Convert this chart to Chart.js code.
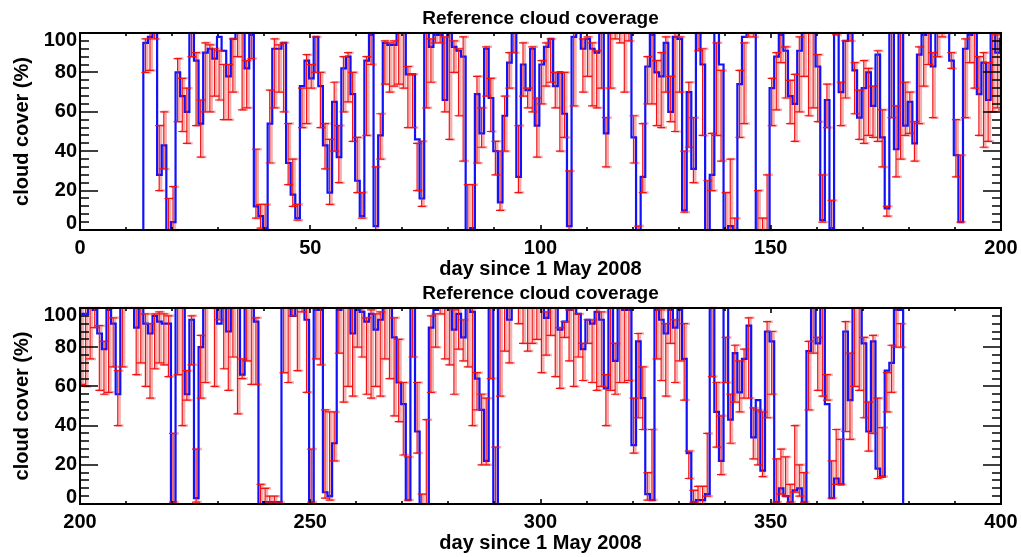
<!DOCTYPE html>
<html>
<head>
<meta charset="utf-8">
<title>Reference cloud coverage</title>
<script src="https://cdn.jsdelivr.net/npm/chart.js@4.4.0/dist/chart.umd.min.js"></script>
<style>
  html, body { margin: 0; padding: 0; background: #fff; }
  #wrap { position: relative; width: 1021px; height: 557px; }
  canvas { position: absolute; left: 0; }
</style>
</head>
<body>
<div id="wrap">
  <canvas id="panelTop" width="1021" height="280" style="top:0"></canvas>
  <canvas id="panelBottom" width="1021" height="277" style="top:280px"></canvas>
</div>
<script>
// first day with an observation (days since 1 May 2008)
const startDay = 13.75;

// daily cloud cover (%), first part (up to day ~200)
const coverFirst = [
  95, 98, 100, 28, 43, 0, 4, 80, 68, 60,
  100, 86, 54, 90, 92, 87, 98, 91, 78, 97,
  100, 100, 82, 99, 12, 7, 1, 54, 92, 92,
  95, 34, 18, 6, 73, 86, 77, 98, 73, 43,
  19, 65, 37, 82, 88, 69, 25, 7, 86, 99,
  2, 48, 95, 94, 94, 100, 100, 79, 79, 46,
  16, 100, 93, 99, 99, 66, 100, 93, 91, 88,
  0, 1, 69, 49, 92, 67, 40, 14, 58, 85,
  100, 27, 84, 71, 92, 53, 84, 93, 97, 73,
  80, 59, 2, 98, 100, 92, 97, 92, 90, 100,
  49, 100, 100, 100, 100, 100, 47, 0, 27, 83,
  99, 80, 78, 95, 60, 98, 97, 10, 70, 31,
  100, 84, 0, 28, 100, 84, 0, 2, 0, 74,
  98, 100, 100, 0, 0, 0, 72, 88, 99, 91,
  68, 64, 91, 100, 100, 100, 83, 5, 66, 1,
  100, 70, 96, 100, 81, 57, 72, 80, 63, 89,
  47, 11, 100, 41, 100, 53, 65, 44, 89, 99,
  100, 83, 100, 100, 100, 86, 38, 4, 92, 99,
  100, 69, 85, 66, 100, 90, 97
];
// daily cloud cover (%), second part
const coverSecond = [
  97, 100, 99, 87, 79, 99, 92, 56, 100, 100,
  100, 90, 100, 92, 87, 96, 93, 92, 92, 1,
  100, 100, 56, 94, 3, 80, 100, 100, 100, 92,
  100, 88, 100, 100, 66, 100, 100, 93, 0, 1,
  1, 1, 1, 100, 100, 96, 100, 100, 94, 1,
  99, 99, 6, 4, 31, 99, 100, 100, 87, 99,
  98, 93, 97, 89, 94, 100, 100, 85, 62, 51,
  2, 100, 37, 0, 0, 90, 99, 100, 100, 100,
  89, 97, 85, 100, 98, 64, 48, 22, 100, 0,
  100, 100, 94, 100, 100, 100, 100, 100, 100, 100,
  95, 100, 100, 89, 93, 99, 100, 97, 79, 94,
  92, 98, 94, 59, 100, 73, 100, 99, 99, 30,
  83, 54, 5, 2, 99, 94, 87, 99, 90, 99,
  74, 26, 1, 2, 2, 5, 100, 47, 22, 100,
  43, 77, 57, 74, 91, 34, 53, 17, 88, 83,
  1, 8, 4, 1, 7, 8, 1, 78, 100, 82,
  100, 51, 3, 13, 10, 88, 53, 100, 100, 82,
  37, 83, 18, 14, 68, 72, 99, 99
];

// reference range (%), lower and upper ends
const lowFirst = [
  80, 81, 97, 20, 31, 0, 0, 55, 50, 44,
  88, 53, 37, 60, 60, 68, 66, 56, 56, 70,
  88, 61, 62, 87, 6, 1, 0, 34, 62, 70,
  60, 23, 12, 5, 52, 54, 72, 80, 52, 31,
  13, 40, 24, 60, 65, 45, 19, 6, 48, 84,
  0, 36, 74, 70, 73, 74, 72, 52, 52, 20,
  12, 62, 75, 95, 95, 60, 46, 80, 58, 35,
  0, 0, 34, 42, 68, 50, 28, 10, 40, 72,
  90, 19, 68, 62, 60, 37, 64, 73, 75, 62,
  40, 47, 0, 63, 100, 70, 78, 63, 62, 72,
  32, 72, 97, 95, 70, 96, 34, 0, 19, 64,
  64, 53, 52, 70, 55, 50, 70, 9, 42, 24,
  91, 48, 0, 20, 48, 35, 0, 0, 0, 47,
  54, 98, 98, 0, 0, 0, 53, 61, 85, 67,
  54, 45, 60, 78, 58, 62, 55, 4, 52, 0,
  99, 53, 67, 96, 59, 46, 44, 48, 47, 45,
  32, 7, 57, 27, 36, 48, 49, 35, 54, 73,
  84, 57, 88, 98, 100, 82, 27, 4, 57, 85,
  72, 48, 42, 45, 60, 62, 61
];
const highFirst = [
  97, 100, 100, 53, 60, 16, 22, 87, 77, 72,
  100, 90, 66, 95, 94, 92, 91, 84, 84, 97,
  100, 100, 86, 100, 41, 13, 13, 71, 97, 94,
  95, 54, 36, 13, 72, 89, 84, 98, 80, 54,
  46, 75, 53, 88, 90, 80, 47, 19, 88, 100,
  32, 59, 96, 95, 96, 100, 100, 83, 79, 44,
  45, 100, 97, 100, 100, 98, 100, 96, 92, 98,
  23, 23, 78, 62, 93, 77, 45, 40, 68, 90,
  100, 53, 95, 72, 93, 67, 86, 95, 97, 80,
  80, 80, 30, 100, 100, 97, 98, 95, 91, 100,
  57, 100, 100, 100, 100, 100, 58, 2, 54, 88,
  100, 86, 90, 98, 78, 100, 98, 40, 75, 57,
  100, 92, 25, 49, 95, 81, 19, 36, 6, 81,
  95, 100, 100, 20, 6, 28, 77, 90, 100, 93,
  76, 79, 98, 100, 100, 100, 89, 28, 74, 15,
  100, 75, 96, 100, 85, 71, 86, 82, 73, 91,
  61, 12, 100, 63, 100, 75, 70, 55, 93, 100,
  100, 90, 100, 100, 100, 90, 56, 38, 97, 100,
  100, 88, 90, 85, 100, 99, 100
];
const lowSecond = [
  60, 74, 90, 58, 56, 57, 70, 40, 70, 100,
  100, 66, 72, 60, 54, 69, 72, 71, 65, 1,
  66, 40, 53, 71, 1, 54, 62, 100, 60, 94,
  69, 58, 75, 46, 64, 73, 61, 61, 0, 0,
  1, 1, 1, 67, 62, 96, 68, 98, 57, 1,
  74, 71, 3, 2, 22, 77, 52, 60, 55, 80,
  75, 56, 54, 60, 55, 74, 64, 45, 42, 25,
  2, 75, 26, 0, 0, 57, 80, 97, 74, 71,
  56, 79, 73, 70, 40, 48, 20, 20, 64, 0,
  55, 78, 72, 100, 92, 82, 78, 82, 84, 67,
  76, 86, 65, 59, 85, 73, 60, 75, 63, 82,
  62, 58, 60, 40, 58, 56, 62, 62, 63, 26,
  44, 38, 2, 2, 74, 63, 55, 82, 62, 73,
  53, 13, 1, 0, 0, 4, 65, 29, 15, 62,
  31, 52, 47, 54, 54, 23, 20, 14, 44, 56,
  1, 5, 4, 1, 6, 4, 1, 48, 77, 58,
  55, 53, 3, 10, 10, 37, 33, 60, 58, 44,
  27, 36, 13, 14, 47, 57, 80, 80
];
const highSecond = [
  100, 100, 100, 91, 83, 100, 95, 68, 100, 100,
  100, 100, 100, 97, 92, 97, 98, 97, 96, 36,
  100, 100, 68, 96, 28, 86, 100, 100, 100, 100,
  100, 100, 100, 100, 74, 100, 100, 95, 10, 8,
  4, 4, 1, 100, 100, 100, 100, 100, 100, 28,
  100, 100, 48, 47, 47, 100, 100, 100, 100, 100,
  100, 95, 99, 97, 98, 100, 100, 95, 84, 62,
  24, 100, 62, 5, 43, 96, 97, 100, 100, 100,
  99, 100, 94, 100, 100, 67, 56, 54, 100, 29,
  100, 100, 100, 100, 100, 100, 100, 100, 100, 100,
  98, 100, 100, 90, 93, 99, 100, 97, 82, 94,
  94, 100, 98, 66, 100, 82, 100, 100, 100, 54,
  87, 70, 16, 38, 100, 99, 92, 100, 94, 100,
  92, 27, 7, 9, 9, 36, 100, 62, 45, 85,
  56, 81, 73, 79, 95, 49, 48, 47, 93, 88,
  23, 28, 24, 10, 40, 20, 16, 83, 100, 85,
  100, 66, 22, 38, 33, 93, 77, 100, 100, 85,
  52, 86, 54, 39, 67, 81, 100, 92
];

const xTicksTop = [0, 50, 100, 150, 200];
const xTicksBottom = [200, 250, 300, 350, 400];
const yTicks = [0, 20, 40, 60, 80, 100];
const titleText = 'Reference cloud coverage';
const xTitleText = 'day since 1 May 2008';
const yTitleText = 'cloud cover (%)';

const cover = coverFirst.concat(coverSecond);
const errLow = lowFirst.concat(lowSecond);
const errHigh = highFirst.concat(highSecond);
const endDay = startDay + cover.length;

// step line: flat zero before and after the observed period
const stepPoints = [{ x: 0, y: 0 }, { x: startDay, y: 0 }];
cover.forEach((v, i) => stepPoints.push({ x: startDay + i, y: v }));
stepPoints.push({ x: endDay, y: cover[cover.length - 1] });
stepPoints.push({ x: endDay, y: 0 });
stepPoints.push({ x: 400, y: 0 });

const FONT = '"Liberation Sans", Arial, Helvetica, sans-serif';

function drawBars(chart, shift, color, width, cap) {
  const { ctx, chartArea: a, scales: { x, y } } = chart;
  ctx.save();
  ctx.beginPath();
  ctx.rect(a.left, a.top - 2, a.right - a.left, a.bottom - a.top + 4);
  ctx.clip();
  ctx.strokeStyle = color;
  ctx.lineWidth = width;
  ctx.beginPath();
  cover.forEach((v, i) => {
    const day = startDay + i + shift;
    if (day < x.min - 1 || day > x.max + 1) return;
    const px = x.getPixelForValue(day);
    const y0 = y.getPixelForValue(errLow[i]);
    const y1 = y.getPixelForValue(errHigh[i]);
    ctx.moveTo(px, y0); ctx.lineTo(px, y1);
    ctx.moveTo(px - cap, y0); ctx.lineTo(px + cap, y0);
    ctx.moveTo(px - cap, y1); ctx.lineTo(px + cap, y1);
  });
  ctx.stroke();
  ctx.restore();
}

const errorBars = {
  id: 'errorBars',
  beforeDatasetsDraw(chart) {
    drawBars(chart, 0.85, 'rgba(236, 95, 95, 0.5)', 2.5, 4);
  },
  afterDatasetsDraw(chart) {
    drawBars(chart, 0.45, '#f21414', 1.2, 4);
  }
};

const frame = {
  id: 'frame',
  afterDraw(chart) {
    const { ctx, chartArea: a, scales: { x, y } } = chart;
    const xTicks = chart.options.plugins.frame.xTicks;
    ctx.save();
    ctx.strokeStyle = '#000';
    ctx.lineWidth = 2;
    ctx.strokeRect(a.left, a.top, a.right - a.left, a.bottom - a.top);

    ctx.lineWidth = 1.6;
    ctx.beginPath();
    for (let v = 0; v <= 100; v += 4) {
      const len = v % 20 === 0 ? 18 : 9;
      const py = Math.round(y.getPixelForValue(v));
      ctx.moveTo(a.left, py); ctx.lineTo(a.left + len, py);
      ctx.moveTo(a.right, py); ctx.lineTo(a.right - len, py);
    }
    for (let d = x.min; d <= x.max; d += 10) {
      const len = d % 50 === 0 ? 5 : 3;
      const px = Math.round(x.getPixelForValue(d));
      ctx.moveTo(px, a.bottom); ctx.lineTo(px, a.bottom - len);
      ctx.moveTo(px, a.top); ctx.lineTo(px, a.top + len);
    }
    ctx.stroke();

    ctx.fillStyle = '#000';
    ctx.font = 'bold 20px ' + FONT;
    ctx.textAlign = 'right';
    ctx.textBaseline = 'middle';
    yTicks.forEach(v => {
      let py = y.getPixelForValue(v);
      py = Math.min(Math.max(py, a.top + 7), a.bottom - 7);
      ctx.fillText(String(v), a.left - 3, py);
    });
    ctx.textAlign = 'center';
    xTicks.forEach(d => {
      ctx.fillText(String(d), x.getPixelForValue(d), a.bottom + 18);
    });
    ctx.fillText(xTitleText, (a.left + a.right) / 2, a.bottom + 39);
    ctx.font = 'bold 19px ' + FONT;
    ctx.fillText(titleText, (a.left + a.right) / 2, a.top - 14);

    ctx.font = 'bold 20px ' + FONT;
    ctx.translate(22, (a.top + a.bottom) / 2);
    ctx.rotate(-Math.PI / 2);
    ctx.fillText(yTitleText, 0, 0);
    ctx.restore();
  }
};

function makePanel(id, xMin, xMax, xTicks, padding) {
  return new Chart(document.getElementById(id), {
    type: 'line',
    data: {
      datasets: [
        {
          data: stepPoints,
          stepped: 'before',
          borderColor: 'rgb(18, 18, 250)',
          borderWidth: 2.2,
          pointRadius: 0,
          fill: false
        },
        {
          data: [{ x: 0, y: 0 }, { x: startDay, y: 0 }],
          borderColor: 'rgba(235, 20, 80, 0.9)',
          borderWidth: 2,
          pointRadius: 0
        },
        {
          data: [{ x: endDay, y: 0 }, { x: 400, y: 0 }],
          borderColor: 'rgba(235, 20, 80, 0.9)',
          borderWidth: 2,
          pointRadius: 0
        }
      ]
    },
    options: {
      responsive: false,
      animation: false,
      devicePixelRatio: 1,
      layout: { padding },
      scales: {
        x: { type: 'linear', min: xMin, max: xMax, display: false },
        y: { type: 'linear', min: 0, max: 100, display: false }
      },
      plugins: {
        legend: { display: false },
        tooltip: { enabled: false },
        frame: { xTicks }
      }
    },
    plugins: [errorBars, frame]
  });
}

makePanel('panelTop', 0, 200, xTicksTop, { left: 80, right: 20, top: 33, bottom: 50 });
makePanel('panelBottom', 200, 400, xTicksBottom, { left: 80, right: 20, top: 28, bottom: 53 });
</script>
</body>
</html>
